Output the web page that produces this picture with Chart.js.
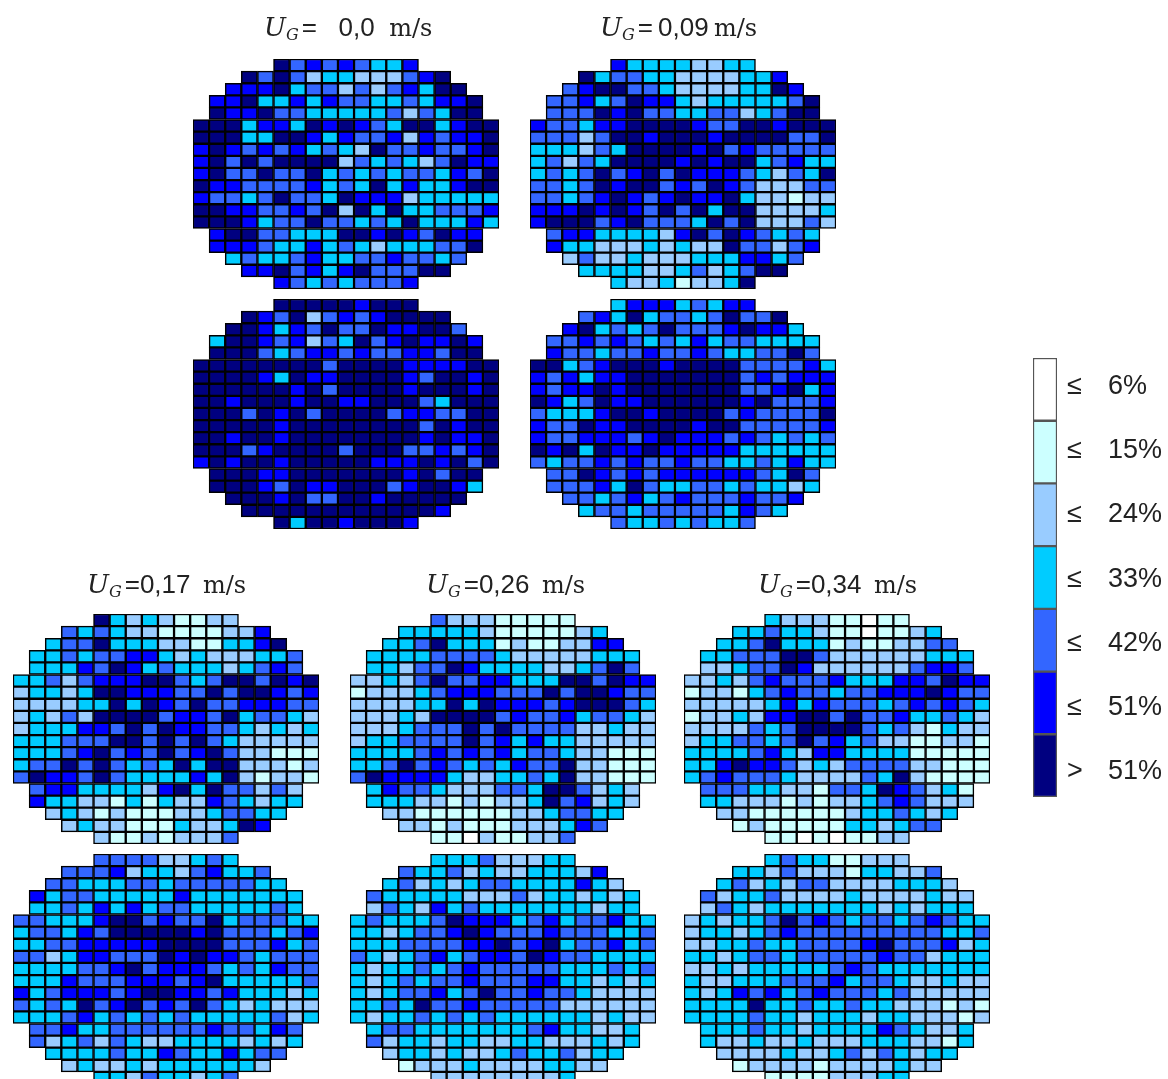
<!DOCTYPE html>
<html>
<head>
<meta charset="utf-8">
<title>Gas holdup maps</title>
<script src="https://cdn.jsdelivr.net/npm/chart.js@4/dist/chart.umd.min.js"></script>
<style>
  html, body { margin: 0; padding: 0; background: #fff; }
  #page { position: relative; width: 1168px; height: 1079px; overflow: hidden; }
  canvas { position: absolute; filter: blur(0.3px); }
  .title { position: absolute; white-space: pre; color: #222; font: 26px "Liberation Sans", sans-serif; filter: blur(0.3px); }
  .title .u { font: italic 26px "DejaVu Serif", serif; }
  .title .g { font: italic 16px "DejaVu Serif", serif; position: relative; top: 4px; margin-right: 3px; }
  .title .unit { font: 24px "DejaVu Serif", serif; }
  .key { position: absolute; color: #222; font: 27px/30px "Liberation Sans", sans-serif; filter: blur(0.3px); }
</style>
</head>
<body>
<div id="page"></div>
<script>
// class index per cell: 0 = lowest class (<= 6%) ... 6 = highest (> 51%)
// each row only lists the cells inside the disk, rows are centred on 19 columns
const classColors = ['#FFFFFF', '#CCFFFF', '#99CCFF', '#00CCFF', '#3366FF', '#0000FF', '#000080'];
const classSymbols = ['≤', '≤', '≤', '≤', '≤', '≤', '>'];
const classLabels = ['6%', '15%', '24%', '33%', '42%', '51%', '51%'];

const titleValues = ['=   0,0  ', '=\u20090,09\u2009', '=0,17 \u2009', '=0,26 \u2009', '=0,34 \u2009'];

const mapU000Top = ['645454335', '6464233222456', '555634424245366', '55633535443343556', '65564433333424366',
  '6663553656543663566', '6663366535445254556', '5654545343264454456', '5646466662434324655', '5644644634343443546',
  '6554444534363533566', '5443464436555233333', '6655445462636334445', '6665344644343633353',
  '56644333665654655', '55543353432333446', '343345334454434', '5564535644466', '543434445'];
const mapU009Top = ['533332233', '6344332222335', '456644322223365', '44534655323333346', '44465644334423466',
  '5443556666544665666', '4442466566656666446', '3332436666564544444', '3424366665656634533', '3434645646555432436',
  '4434656645465422244', '4434565456556322122', '5556565464636622223', '5666456444364622242',
  '45533332564654343', '53322232322644245', '242232223335534', '3333223423466', '322312236'];
const mapU000Bottom = ['666665666', '6546245456666', '665354644655664', '36654524364565565', '66643455454455466',
  '6666666646666555566', '6666536556666546656', '6666665646666566656', '6656665665566643666', '6664656466664554466',
  '6666656666666646566', '6656656666666656556', '6664566664666445456', '5656656666655565646',
  '66655666666656466', '66654655666456653', '666564466566666', '6666666666665', '636656665'];
const mapU009Bottom = ['355534355', '4536344346446', '563434644456553', '44545434353443333', '54434454454334464',
  '6634566656666444453', '5453556666666454555', '5455656666666445635', '6534655666666564445', '4333566566664544446',
  '5446556666566444445', '5445554565554543434', '6563655655555333333', '4344545445443343533',
  '44654545555554364', '44453643344343323', '443453454445445', '3443444443543', '433434334'];
const mapU017Top = ['632321122', '4343221111225', '344633322113356', '33434455323222334', '33354653433323454',
  '3342455566434664656', '2332366555446466545', '2222336365464455544', '2324266664554634432', '2333554646554432323',
  '3334446646464322222', '3334564546456422111', '3446464343636622212', '4655464333353621221',
  '45533332563644242', '53322131322543233', '232121112234433', '2322111322365', '211212224'];
const mapU026Top = ['422211111', '3333321111123', '334633312112255', '33334444322222333', '33244653333223464',
  '2232464455333664655', '1222345554446466544', '2222336365554566643', '2223266664544534432', '2223444646444422322',
  '2334444645353322222', '3333454545344322111', '3346454343544622111', '4655553223343622111',
  '35443222443664232', '33322121223645232', '221111112234433', '2212111222354', '110211224'];
const mapU034Top = ['322211011', '3343321101123', '334633312112244', '33444664222222333', '22344652222224554',
  '2232454445333554655', '1221345443445556544', '2222235354443454543', '1223255664644533432', '2222434666643421322',
  '2334434645342211221', '3333453255333311111', '3356554232444422111', '3454443222243621111',
  '44433221443654231', '33222121223454222', '221111112334323', '1211111332344', '110101122'];
const mapU017Bottom = ['444422343', '4445233245334', '443334434444433', '53443333353333333', '33435353443333343',
  '4433356645446344433', '3443546666656444345', '3344555556666444534', '4423554446565543444', '3333445645554343544',
  '3335444555456333334', '5345554566554533323', '4343645645464323222', '3334534343433333423',
  '44533444444544354', '42342432233332323', '333343354335344', '2322323333332', '332433234'];
const mapU026Bottom = ['333422233', '4334232233325', '342323443333532', '43333322242332323', '24325343333333233',
  '3433346555345344533', '3323445654445444334', '3334444556456344534', '4323453455465443333', '3233434544444333434',
  '3234344544455332323', '3234453464454432222', '3343644544444222222', '3233434343333332322',
  '34433333334533223', '42332332233222323', '233232234334233', '1222322223322', '222222223'];
const mapU034Bottom = ['343311222', '3324222133224', '342324422223332', '42334222232222322', '24323333333232333',
  '2323346454344345433', '2332345444444444334', '2233433444456444523', '3323443444445442333', '2232333334543333333',
  '3223334445344322322', '3235453454443422222', '3333633433433222121', '3333433233323322212',
  '33343323333543223', '32232232223332213', '222232234243233', '1222212222322', '111122233'];

// layout of the page
const PANEL_W = 306;
const PANEL_H = 230;
const COLS = 19;
const panels = [
  { rows: mapU000Top, x: 193, y: 59 },
  { rows: mapU009Top, x: 530, y: 59 },
  { rows: mapU000Bottom, x: 193, y: 299 },
  { rows: mapU009Bottom, x: 530, y: 299 },
  { rows: mapU017Top, x: 13, y: 614 },
  { rows: mapU026Top, x: 350, y: 614 },
  { rows: mapU034Top, x: 684, y: 614 },
  { rows: mapU017Bottom, x: 13, y: 854 },
  { rows: mapU026Bottom, x: 350, y: 854 },
  { rows: mapU034Bottom, x: 684, y: 854 }
];
const titles = [
  { x: 264, y: 12 }, { x: 600, y: 12 }, { x: 87, y: 569 }, { x: 426, y: 569 }, { x: 758, y: 569 }
];

const page = document.getElementById('page');

function addCanvas(x, y, w, h) {
  const canvas = document.createElement('canvas');
  canvas.width = w;
  canvas.height = h;
  canvas.style.left = x + 'px';
  canvas.style.top = y + 'px';
  page.appendChild(canvas);
  return canvas;
}

const baseOptions = {
  responsive: false,
  animation: false,
  events: [],
  layout: { padding: 1 },
  plugins: { legend: { display: false }, title: { display: false }, tooltip: { enabled: false } }
};

/**
 * one disk: every row is a dataset of floating bars [row, row + 1], one per column
 */
function drawPanel(panel) {
  const columns = Array.from({ length: COLS }, (_, i) => i);
  const datasets = panel.rows.map((row, r) => {
    const offset = (COLS - row.length) / 2;
    const cell = i => row[i - offset];
    return {
      data: columns.map(i => (cell(i) === undefined ? null : [r, r + 1])),
      backgroundColor: columns.map(i => (cell(i) === undefined ? 'transparent' : classColors[Number(cell(i))])),
      borderColor: '#000',
      borderWidth: 1.5,
      borderSkipped: false,
      barPercentage: 1,
      categoryPercentage: 1
    };
  });

  new Chart(addCanvas(panel.x - 1, panel.y - 1, PANEL_W + 2, PANEL_H + 2), {
    type: 'bar',
    data: { labels: columns, datasets: datasets },
    options: {
      ...baseOptions,
      scales: {
        x: { display: false, stacked: true },
        y: { display: false, min: 0, max: panel.rows.length, reverse: true }
      }
    }
  });
}

/**
 * colour key on the right, same floating bars but one column
 */
function drawKey() {
  const datasets = classColors.map((color, i) => ({
    data: [[i, i + 1]],
    backgroundColor: color,
    borderColor: '#555',
    borderWidth: 1.5,
    borderSkipped: false,
    barPercentage: 1,
    categoryPercentage: 1
  }));

  new Chart(addCanvas(1032, 357, 26, 441), {
    type: 'bar',
    data: { labels: ['key'], datasets: datasets },
    options: {
      ...baseOptions,
      scales: {
        x: { display: false, stacked: true },
        y: { display: false, min: 0, max: classColors.length, reverse: true }
      }
    }
  });

  classLabels.forEach((label, i) => {
    const top = 370 + 64.2 * i;
    const symbol = document.createElement('div');
    symbol.className = 'key';
    symbol.style.left = '1067px';
    symbol.style.top = top + 'px';
    symbol.textContent = classSymbols[i];
    page.appendChild(symbol);

    const text = document.createElement('div');
    text.className = 'key';
    text.style.left = '1108px';
    text.style.top = top + 'px';
    text.textContent = label;
    page.appendChild(text);
  });
}

function drawTitles() {
  titles.forEach((pos, i) => {
    const div = document.createElement('div');
    div.className = 'title';
    div.style.left = pos.x + 'px';
    div.style.top = pos.y + 'px';
    div.innerHTML = '<span class="u">U</span><span class="g">G</span>' + titleValues[i] + '<span class="unit">m/s</span>';
    page.appendChild(div);
  });
}

panels.forEach(drawPanel);
drawKey();
drawTitles();
</script>
</body>
</html>
